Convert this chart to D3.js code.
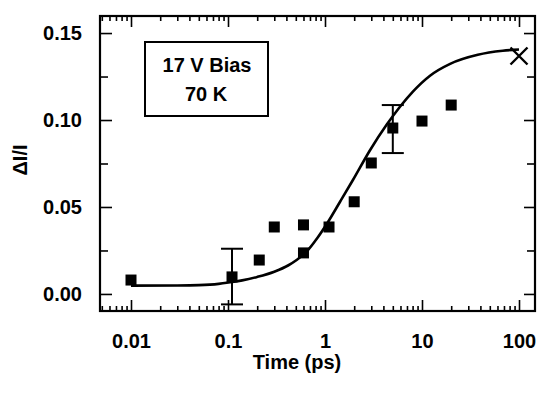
<!DOCTYPE html>
<html>
<head>
<meta charset="utf-8">
<script src="https://cdn.jsdelivr.net/npm/d3@7"></script>
<style>
  html, body { margin: 0; padding: 0; background: #fff; }
  svg text { font-family: "Liberation Sans", Arial, Helvetica, sans-serif; fill: #000; font-weight: bold; }
</style>
</head>
<body>
<svg id="chart" width="539" height="394"></svg>
<script>
// ---- data ----
const timePs    = [0.01, 0.11, 0.21, 0.3, 0.6, 0.6, 1.1, 2.0, 3.0, 5.0, 10, 20];
const deltaI    = [0.008, 0.0098, 0.0195, 0.0385, 0.0397, 0.0236, 0.0385, 0.053, 0.0753, 0.0954, 0.0994, 0.1086];
const errTime   = [0.11, 5.0];
const errLow    = [-0.006, 0.081];
const errHigh   = [0.026, 0.1086];
const crossTime = [100];
const crossVal  = [0.1368];
const fitTime   = [0.01, 0.03, 0.05, 0.08, 0.105, 0.14, 0.2, 0.3, 0.42, 0.51, 0.65, 0.83, 1.05, 1.43, 1.94, 2.9, 4.35, 5.9, 8.1, 12.1, 19.5, 37.6, 68, 100];
const fitVal    = [0.0048, 0.0049, 0.0051, 0.0058, 0.0067, 0.0078, 0.0098, 0.0128, 0.0165, 0.0195, 0.0245, 0.032, 0.0405, 0.053, 0.0655, 0.0825, 0.0975, 0.1075, 0.1165, 0.1255, 0.1323, 0.1375, 0.1398, 0.1405];
const xMajorTicks = [0.01, 0.1, 1, 10, 100];
const xTickLabels = ["0.01", "0.1", "1", "10", "100"];
const yMajorTicks = [0.00, 0.05, 0.10, 0.15];
const yTickLabels = ["0.00", "0.05", "0.10", "0.15"];
const yMinorTicks = [0.025, 0.075, 0.125];
const legendLines = ["17 V Bias", "70 K"];
const xTitle = "Time (ps)";
const yTitle = "\u0394I/I";

// ---- layout ----
const L = 100, R = 535, T = 16, B = 311;
const FS = 20;
const x = d3.scaleLog().domain([0.004791, 146.2]).range([L, R]);
const y = d3.scaleLinear().domain([-0.0098, 0.1598]).range([B, T]);

const xMinorTicks = [];
[0.001, 0.01, 0.1, 1, 10, 100].forEach(d => {
  for (let k = 2; k <= 9; k++) {
    const v = d * k;
    if (v > x.domain()[0] && v < x.domain()[1]) xMinorTicks.push(v);
  }
});

const svg = d3.select("#chart");

function styleAxis(g) {
  g.select(".domain").remove();
  g.selectAll(".tick line").attr("stroke", "#000").attr("stroke-width", 1.6);
  g.attr("font-family", null).attr("font-size", FS);
}

// bottom axis (major with labels, minor)
svg.append("g").attr("transform", `translate(0,${B})`)
  .call(d3.axisBottom(x).tickValues(xMajorTicks).tickSize(-11).tickPadding(23)
        .tickFormat((d, i) => xTickLabels[i]))
  .call(styleAxis);
svg.append("g").attr("transform", `translate(0,${B})`)
  .call(d3.axisBottom(x).tickValues(xMinorTicks).tickSize(-5).tickFormat(""))
  .call(styleAxis);
// top axis
svg.append("g").attr("transform", `translate(0,${T})`)
  .call(d3.axisTop(x).tickValues(xMajorTicks).tickSize(-11).tickFormat(""))
  .call(styleAxis);
svg.append("g").attr("transform", `translate(0,${T})`)
  .call(d3.axisTop(x).tickValues(xMinorTicks).tickSize(-5).tickFormat(""))
  .call(styleAxis);
// left axis
svg.append("g").attr("transform", `translate(${L},0)`)
  .call(d3.axisLeft(y).tickValues(yMajorTicks).tickSize(-12).tickPadding(18)
        .tickFormat((d, i) => yTickLabels[i]))
  .call(styleAxis);
svg.append("g").attr("transform", `translate(${L},0)`)
  .call(d3.axisLeft(y).tickValues(yMinorTicks).tickSize(-8).tickFormat(""))
  .call(styleAxis);
// right axis
svg.append("g").attr("transform", `translate(${R},0)`)
  .call(d3.axisRight(y).tickValues(yMajorTicks).tickSize(-11).tickFormat(""))
  .call(styleAxis);
svg.append("g").attr("transform", `translate(${R},0)`)
  .call(d3.axisRight(y).tickValues(yMinorTicks).tickSize(-8).tickFormat(""))
  .call(styleAxis);

// frame
svg.append("rect")
  .attr("x", x.range()[0]).attr("y", y.range()[1])
  .attr("width", x.range()[1] - x.range()[0])
  .attr("height", y.range()[0] - y.range()[1])
  .attr("fill", "none").attr("stroke", "#000").attr("stroke-width", 2.2);

// fit curve
const fit = fitTime.map((t, i) => [t, fitVal[i]]);
svg.append("path")
  .datum(fit)
  .attr("fill", "none").attr("stroke", "#000").attr("stroke-width", 2.6)
  .attr("d", d3.line().x(d => x(d[0])).y(d => y(d[1])).curve(d3.curveMonotoneX));

// error bars
const errs = errTime.map((t, i) => ({t, lo: errLow[i], hi: errHigh[i]}));
const eg = svg.append("g").attr("stroke", "#000").attr("stroke-width", 2);
errs.forEach(e => {
  eg.append("line").attr("x1", x(e.t)).attr("x2", x(e.t)).attr("y1", y(e.lo)).attr("y2", y(e.hi));
  [e.lo, e.hi].forEach(v => {
    eg.append("line").attr("x1", x(e.t) - 11).attr("x2", x(e.t) + 11).attr("y1", y(v)).attr("y2", y(v));
  });
});

// square markers
const sq = 11;
svg.append("g").selectAll("rect")
  .data(timePs.map((t, i) => [t, deltaI[i]]))
  .join("rect")
  .attr("x", d => x(d[0]) - sq / 2).attr("y", d => y(d[1]) - sq / 2)
  .attr("width", sq).attr("height", sq).attr("fill", "#000");

// cross marker
const cs = 8.5;
crossTime.forEach((t, i) => {
  const cx = x(t), cy = y(crossVal[i]);
  svg.append("path")
    .attr("d", `M${cx - cs},${cy - cs}L${cx + cs},${cy + cs}M${cx - cs},${cy + cs}L${cx + cs},${cy - cs}`)
    .attr("stroke", "#000").attr("stroke-width", 2.4).attr("fill", "none");
});

// legend box
svg.append("rect").attr("x", 145).attr("y", 42).attr("width", 123).attr("height", 74)
  .attr("fill", "#fff").attr("stroke", "#000").attr("stroke-width", 2);
svg.append("text").attr("x", 207).attr("y", 72).attr("text-anchor", "middle")
  .attr("font-size", FS).text(legendLines[0]);
svg.append("text").attr("x", 206).attr("y", 101).attr("text-anchor", "middle")
  .attr("font-size", FS).text(legendLines[1]);

// axis titles
svg.append("text").attr("x", 297).attr("y", 369).attr("text-anchor", "middle")
  .attr("font-size", FS).text(xTitle);
svg.append("text").attr("transform", "translate(27,160) rotate(-90)")
  .attr("text-anchor", "middle").attr("font-size", FS).text(yTitle);
</script>
</body>
</html>
